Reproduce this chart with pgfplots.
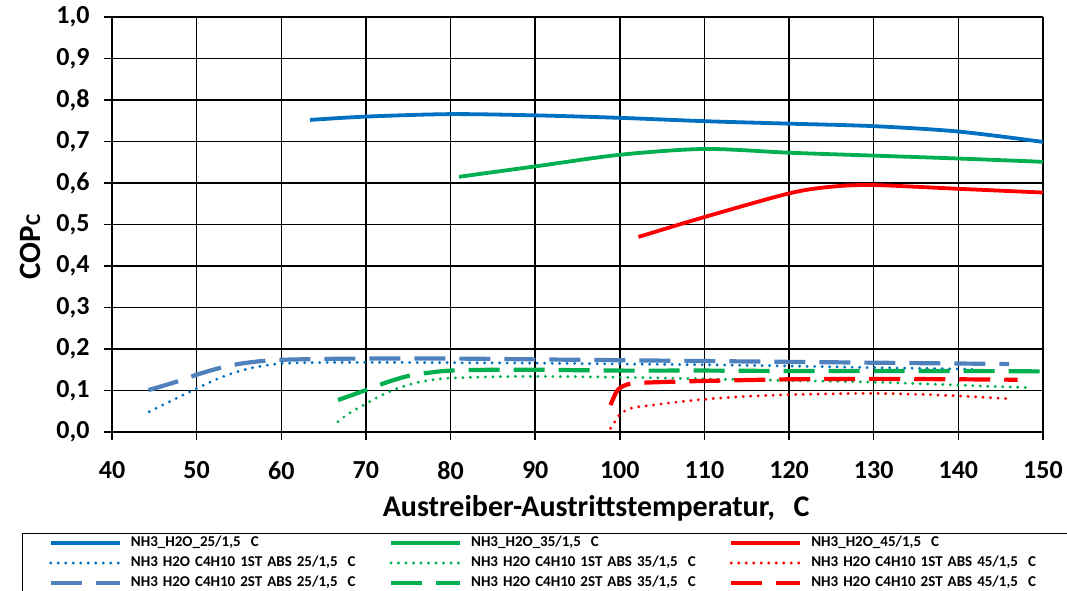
\documentclass[border=0pt]{standalone}
\usepackage{fontspec}
\setmainfont{Carlito}
\usepackage{pgfplots}
\pgfplotsset{compat=1.18}
\definecolor{cblue}{HTML}{0070C0}
\definecolor{cgreen}{HTML}{00B050}
\definecolor{cred}{HTML}{FF0000}
\definecolor{cdblue}{HTML}{4F81BD}
\begin{document}
\begin{tikzpicture}[x=1pt,y=1pt]
\useasboundingbox (-112,-158) rectangle (955,432);
\begin{axis}[
  at={(0pt,0pt)}, anchor=south west,
  scale only axis, width=931pt, height=415pt,
  xmin=40, xmax=150, ymin=0, ymax=1,
  xtick={40,50,...,150}, ytick={0,0.1,...,1.0},
  axis lines=left, axis line style={-, black, line width=2.6pt},
  grid=major, major grid style={black, line width=1.5pt},
  tick align=outside, major tick length=8pt,
  tick style={black, line width=1.5pt},
  ticklabel style={font=\fontsize{26}{26}\selectfont\bfseries},
  /pgf/number format/assume math mode=true,
  yticklabel style={/pgf/number format/.cd, fixed, fixed zerofill, precision=1, use comma, /tikz/.cd, xshift=-11pt},
  xticklabel style={/pgf/number format/fixed, yshift=-18pt},
  xlabel={Austreiber-Austrittstemperatur,~~\,C},
  xlabel style={font=\fontsize{30}{30}\selectfont\bfseries, at={(axis description cs:0.520,-0.183)}, anchor=center},
  ylabel={COP{\fontsize{21}{21}\selectfont C}},
  ylabel style={font=\fontsize{31}{31}\selectfont\bfseries, at={(axis description cs:-0.0881,0.4458)}, anchor=center},
  legend columns=3,
  legend cell align=left,
  legend image code/.code={\draw[#1] (0pt,0pt) -- (69pt,0pt);},
  legend style={at={(axis description cs:-0.0967,-0.2427)}, anchor=north west,
    draw=black, line width=1.5pt, inner xsep=26pt, inner ysep=2pt,
    font=\fontsize{15}{15}\selectfont\bfseries,
    row sep=5pt,
    nodes={text width=240pt, align=left, inner xsep=0pt, inner ysep=0pt, text height=11pt, text depth=4pt},
    /tikz/every odd column/.append style={column sep=9pt},
    /tikz/every even column/.append style={column sep=18pt}},
]
% solid
\addplot[cblue, line width=3.8pt, smooth] coordinates {(63.4,0.752)(70,0.760)(80,0.766)(90,0.763)(100,0.757)(110,0.749)(120,0.743)(130,0.737)(140,0.724)(150,0.699)};
\addlegendentry{NH3\_H2O\_25/1,5~~C}
\addplot[cgreen, line width=3.8pt, smooth] coordinates {(81,0.615)(90,0.640)(100,0.668)(110,0.682)(120,0.673)(130,0.666)(140,0.659)(150,0.651)};
\addlegendentry{NH3\_H2O\_35/1,5~~C}
\addplot[cred, line width=3.8pt, smooth] coordinates {(102.2,0.470)(110,0.518)(120,0.575)(125,0.591)(130,0.595)(140,0.586)(150,0.577)};
\addlegendentry{NH3\_H2O\_45/1,5~~C}
% dotted 1ST
\addplot[cblue, line width=3.2pt, line cap=round, dash pattern=on 0pt off 7.5pt, smooth] coordinates {(44.4,0.049)(46,0.065)(48,0.085)(50,0.105)(52,0.124)(54,0.140)(56,0.152)(58,0.160)(60,0.165)(63,0.167)(70,0.168)(80,0.167)(90,0.166)(100,0.164)(110,0.162)(120,0.159)(130,0.155)(137,0.153)(142,0.151)};
\addlegendentry{NH3 H2O C4H10 1ST ABS 25/1,5~~C}
\addplot[cgreen, line width=3.2pt, line cap=round, dash pattern=on 0pt off 7.5pt, smooth] coordinates {(66.7,0.025)(68,0.045)(70,0.068)(72,0.090)(74,0.107)(76,0.119)(78,0.126)(80,0.130)(85,0.133)(90,0.134)(100,0.132)(110,0.128)(120,0.124)(130,0.120)(140,0.113)(148,0.107)};
\addlegendentry{NH3 H2O C4H10 1ST ABS 35/1,5~~C}
\addplot[cred, line width=3.2pt, line cap=round, dash pattern=on 0pt off 7.5pt, smooth] coordinates {(98.9,0.009)(99.5,0.027)(100,0.043)(100.8,0.053)(101.6,0.059)(103.6,0.064)(106.3,0.071)(109,0.077)(112,0.082)(115,0.086)(120,0.090)(125,0.092)(130,0.093)(135,0.091)(140,0.087)(146,0.080)};
\addlegendentry{NH3 H2O C4H10 1ST ABS 45/1,5~~C}
% dashed 2ST
\addplot[cdblue, line width=4.2pt, dash pattern=on 31pt off 14pt, smooth] coordinates {(44.3,0.101)(47.6,0.121)(50,0.138)(52.5,0.153)(55,0.164)(57.7,0.171)(60,0.174)(65,0.176)(70,0.177)(80,0.177)(90,0.175)(100,0.173)(110,0.171)(120,0.169)(130,0.167)(140,0.165)(146,0.164)};
\addlegendentry{NH3 H2O C4H10 2ST ABS 25/1,5~~C}
\addplot[cgreen, line width=4.2pt, dash pattern=on 31pt off 14pt, smooth] coordinates {(66.7,0.077)(70,0.101)(72.5,0.120)(75,0.135)(77.5,0.143)(80,0.148)(85,0.150)(90,0.150)(100,0.148)(110,0.148)(120,0.147)(130,0.147)(140,0.147)(150,0.146)};
\addlegendentry{NH3 H2O C4H10 2ST ABS 35/1,5~~C}
\addplot[cred, line width=4.2pt, dash pattern=on 31pt off 14pt, smooth] coordinates {(98.9,0.065)(99.5,0.093)(100,0.106)(100.8,0.114)(102,0.118)(106,0.121)(110,0.123)(120,0.127)(130,0.128)(140,0.127)(147,0.126)};
\addlegendentry{NH3 H2O C4H10 2ST ABS 45/1,5~~C}
\end{axis}
\end{tikzpicture}
\end{document}
